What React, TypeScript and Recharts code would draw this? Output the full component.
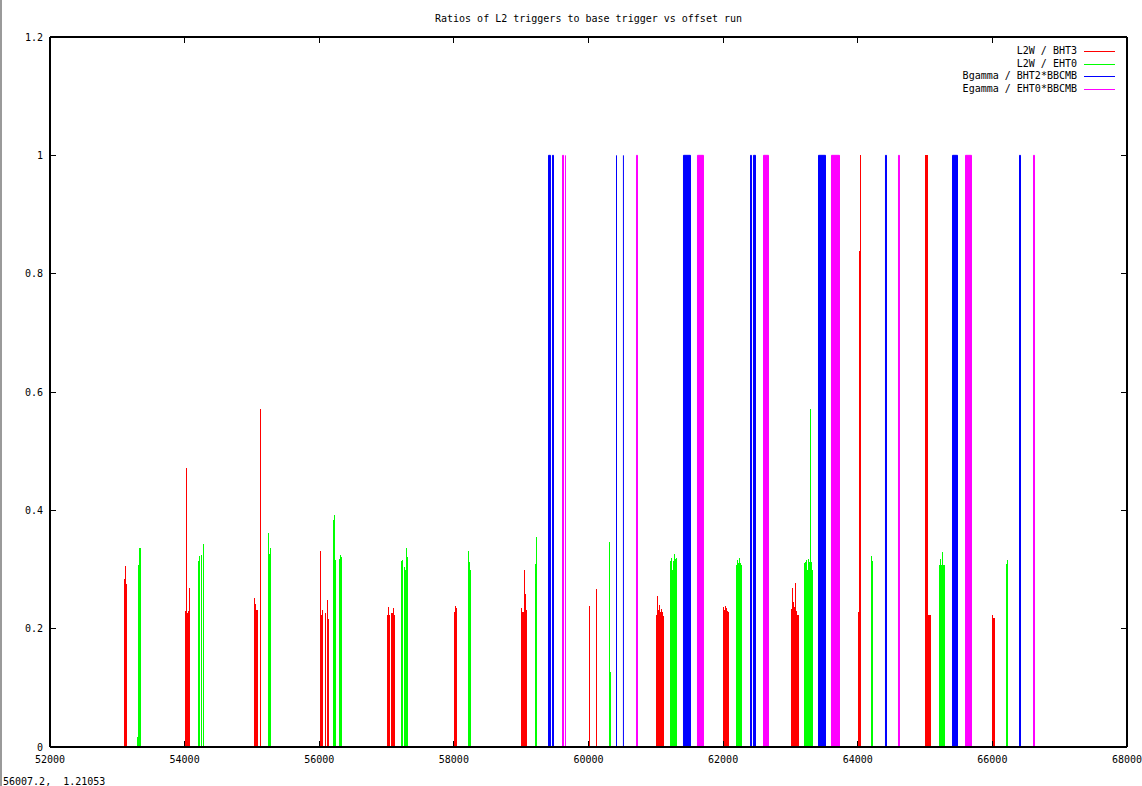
import React from 'react';
import { ComposedChart, Bar, XAxis, YAxis, ReferenceArea, ReferenceLine, Legend } from 'recharts';

const FONT = '"DejaVu Sans Mono", monospace';

const seriesNames = ['L2W / BHT3', 'L2W / EHT0', 'Bgamma / BHT2*BBCMB', 'Egamma / EHT0*BBCMB'];
const seriesColors = ['#ff0000', '#00ff00', '#0000ff', '#ff00ff'];

const xTicks = [52000, 54000, 56000, 58000, 60000, 62000, 64000, 66000, 68000];
const yTicks = [0, 0.2, 0.4, 0.6, 0.8, 1, 1.2];

// [run, ratio]
const l2wBht3: [number, number][] = [
  [53107, 0.284], [53122, 0.306], [53137, 0.276],
  [54013, 0.23], [54028, 0.472], [54043, 0.226], [54058, 0.23], [54073, 0.269],
  [55038, 0.252], [55053, 0.242], [55068, 0.231], [55083, 0.232], [55127, 0.572],
  [56019, 0.331], [56033, 0.223], [56048, 0.231], [56093, 0.226], [56123, 0.248], [56137, 0.216],
  [57014, 0.223], [57029, 0.237], [57044, 0.223], [57073, 0.226], [57088, 0.226], [57103, 0.235], [57118, 0.223],
  [58009, 0.229], [58024, 0.238], [58039, 0.235],
  [59005, 0.235], [59020, 0.229], [59034, 0.228], [59049, 0.299], [59064, 0.259], [59079, 0.231],
  [60015, 0.239], [60119, 0.267],
  [61010, 0.223], [61025, 0.255], [61040, 0.232], [61055, 0.24], [61069, 0.229], [61084, 0.234], [61099, 0.229], [61114, 0.222],
  [62006, 0.237], [62020, 0.232], [62035, 0.239], [62050, 0.235], [62065, 0.23], [62080, 0.229],
  [63016, 0.234], [63031, 0.268], [63045, 0.245], [63060, 0.236], [63075, 0.278], [63090, 0.23], [63105, 0.223], [63120, 0.223],
  [64011, 0.229], [64026, 0.838], [64041, 1.0],
  [65006, 1.0], [65021, 1.0], [65036, 1.0], [65051, 0.223], [65066, 0.223], [65081, 0.223],
  [66002, 0.223], [66017, 0.218], [66032, 0.218],
];

const l2wEht0: [number, number][] = [
  [53300, 0.017], [53315, 0.308], [53330, 0.336], [53344, 0.336],
  [54206, 0.314], [54221, 0.323], [54251, 0.325], [54280, 0.343],
  [55246, 0.362], [55261, 0.326], [55276, 0.336],
  [56212, 0.383], [56227, 0.392], [56241, 0.316], [56301, 0.317], [56316, 0.325], [56331, 0.321],
  [57222, 0.314], [57237, 0.316], [57267, 0.304], [57281, 0.299], [57296, 0.336], [57311, 0.321],
  [58217, 0.331], [58232, 0.312], [58247, 0.3],
  [59213, 0.31], [59228, 0.355],
  [60312, 0.347], [60327, 0.127],
  [61218, 0.314], [61233, 0.319], [61248, 0.3], [61263, 0.314], [61278, 0.326], [61292, 0.318], [61307, 0.319],
  [62199, 0.307], [62214, 0.316], [62228, 0.311], [62243, 0.32], [62258, 0.311], [62273, 0.307],
  [63209, 0.311], [63224, 0.313], [63239, 0.316], [63254, 0.3], [63268, 0.317], [63283, 0.313], [63298, 0.571], [63313, 0.313], [63328, 0.3],
  [64204, 0.322], [64219, 0.314],
  [65215, 0.308], [65230, 0.318], [65244, 0.308], [65259, 0.33], [65274, 0.308], [65289, 0.308],
  [66210, 0.31], [66225, 0.316],
];

// [first run, last run, ratio] - dense blocks of runs
const bgammaRuns: [number, number, number][] = [
  [59406, 59435, 1], [59465, 59480, 1], [60416, 60416, 1], [60519, 60519, 1],
  [61411, 61515, 1], [62407, 62421, 1], [62451, 62481, 1], [63417, 63521, 1],
  [64412, 64427, 1], [65408, 65482, 1], [66403, 66418, 1],
];

const egammaRuns: [number, number, number][] = [
  [59614, 59629, 1], [59658, 59658, 1], [60713, 60728, 1], [61619, 61708, 1],
  [62600, 62674, 1], [63610, 63729, 1], [64605, 64620, 1], [65601, 65690, 1],
  [66611, 66626, 1],
];

const rows = [
  ...l2wBht3.map(([run, ratio]) => ({ run, bht3: ratio })),
  ...l2wEht0.map(([run, ratio]) => ({ run, eht0: ratio })),
].sort((a, b) => a.run - b.run);

const fmtY = (v: number) => (v === 0 ? '0' : String(v));

const Impulse = (p: any) => {
  if (!p.height || p.height <= 0) return null;
  return <rect x={p.x} y={p.y} width={p.width} height={p.height} fill={p.fill} shapeRendering="crispEdges" />;
};

const BottomTick = (p: any) => (
  <g>
    <line x1={p.x} y1={p.y} x2={p.x} y2={p.y - 6} stroke="#000" shapeRendering="crispEdges" />
    <text x={p.x} y={p.y + 16} textAnchor="middle" fontFamily={FONT} fontSize={10} fill="#000">
      {p.payload.value}
    </text>
  </g>
);

const TopTick = (p: any) => (
  <line x1={p.x} y1={p.y} x2={p.x} y2={p.y + 6} stroke="#000" shapeRendering="crispEdges" />
);

const LeftTick = (p: any) => (
  <g>
    <line x1={p.x} y1={p.y} x2={p.x + 6} y2={p.y} stroke="#000" shapeRendering="crispEdges" />
    <text x={p.x - 7} y={p.y + 3.5} textAnchor="end" fontFamily={FONT} fontSize={10} fill="#000">
      {fmtY(p.payload.value)}
    </text>
  </g>
);

const RightTick = (p: any) => (
  <line x1={p.x} y1={p.y} x2={p.x - 6} y2={p.y} stroke="#000" shapeRendering="crispEdges" />
);

const KeyBox = () => (
  <svg width={180} height={60}>
    {seriesNames.map((name, i) => {
      const y = 11.5 + i * 12.6;
      return (
        <g key={name}>
          <text x={127} y={y + 2.5} textAnchor="end" fontFamily={FONT} fontSize={10} fill="#000">
            {name}
          </text>
          <line x1={134} x2={165} y1={y} y2={y} stroke={seriesColors[i]} shapeRendering="crispEdges" />
        </g>
      );
    })}
  </svg>
);

const renderBlocks = (blocks: [number, number, number][], color: string, key: string) =>
  blocks.map(([first, last, ratio], i) =>
    first === last ? (
      <ReferenceLine
        key={`${key}-${i}`}
        segment={[{ x: first, y: 0 }, { x: first, y: ratio }]}
        stroke={color}
        strokeWidth={1}
      />
    ) : (
      <ReferenceArea
        key={`${key}-${i}`}
        x1={first}
        x2={last}
        y1={0}
        y2={ratio}
        fill={color}
        fillOpacity={1}
        stroke={color}
        strokeWidth={1}
      />
    )
  );

export default function App() {
  const axisLine = { stroke: '#000', strokeWidth: 2 };
  return (
    <div style={{ position: 'absolute', left: 0, top: 0, width: 1142, height: 786, background: '#fff' }}>
      <div style={{ position: 'absolute', left: 0, top: 0, width: 2, height: 786, background: '#9a9a9a' }} />
      <div
        style={{
          position: 'absolute', left: 50, top: 13, width: 1077, textAlign: 'center',
          fontFamily: FONT, fontSize: 10, lineHeight: '12px', color: '#000',
        }}
      >
        Ratios of L2 triggers to base trigger vs offset run
      </div>
      <ComposedChart
        width={1142}
        height={786}
        data={rows}
        margin={{ top: 36, right: 14, bottom: 14, left: 0 }}
        barGap={0}
        barCategoryGap={0}
      >
        <XAxis
          dataKey="run" type="number" domain={[52000, 68000]} ticks={xTicks} interval={0}
          allowDataOverflow height={25} tickSize={0} tickMargin={0}
          axisLine={axisLine} tickLine={false} tick={BottomTick}
        />
        <XAxis
          xAxisId="top" orientation="top" dataKey="run" type="number" domain={[52000, 68000]}
          ticks={xTicks} interval={0} allowDataOverflow height={1} tickSize={0} tickMargin={0}
          axisLine={axisLine} tickLine={false} tick={TopTick}
        />
        <YAxis
          type="number" domain={[0, 1.2]} ticks={yTicks} interval={0} allowDataOverflow
          width={50} tickSize={0} tickMargin={0} axisLine={axisLine} tickLine={false} tick={LeftTick}
        />
        <YAxis
          yAxisId="right" orientation="right" type="number" domain={[0, 1.2]} ticks={yTicks}
          interval={0} allowDataOverflow width={1} tickSize={0} tickMargin={0}
          axisLine={axisLine} tickLine={false} tick={RightTick}
        />
        <Legend
          layout="horizontal" verticalAlign="middle" align="center"
          content={KeyBox}
          wrapperStyle={{ position: 'absolute', left: 950, top: 40, width: 180, height: 60 }}
        />
        {renderBlocks(bgammaRuns, seriesColors[2], 'bg')}
        {renderBlocks(egammaRuns, seriesColors[3], 'eg')}
        <Bar dataKey="bht3" name={seriesNames[0]} stackId="imp" fill={seriesColors[0]} barSize={1} shape={Impulse} isAnimationActive={false} />
        <Bar dataKey="eht0" name={seriesNames[1]} stackId="imp" fill={seriesColors[1]} barSize={1} shape={Impulse} isAnimationActive={false} />
      </ComposedChart>
      <div
        style={{
          position: 'absolute', left: 3, top: 776, fontFamily: FONT, fontSize: 10,
          lineHeight: '12px', color: '#000', whiteSpace: 'pre',
        }}
      >
        {'56007.2,  1.21053'}
      </div>
    </div>
  );
}
